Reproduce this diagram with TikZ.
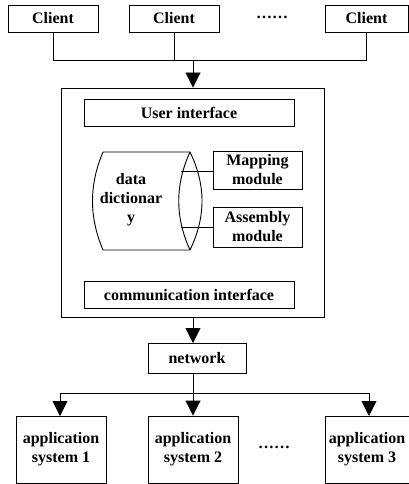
\documentclass[tikz,border=0pt]{standalone}
\usepackage{fontspec}
\setmainfont{Liberation Serif}
\usetikzlibrary{positioning, arrows.meta}

\begin{document}
\begin{tikzpicture}[
            x=1pt, y=-1pt,
            line width=0.9pt,
            every node/.style={font=\fontsize{16}{19}\selectfont\bfseries, align=center, inner sep=0pt},
            box/.style={draw, minimum width=90pt, minimum height=27pt},
            arr/.style={-{Triangle[width=15pt,length=15pt]}}
        ]

        \useasboundingbox (0,0) rectangle (409,484);

        % clients
        \node[box] (c1) at (53,18.5) {Client};
        \node[box] (c2) at (174,18.5) {Client};
        \node[box, minimum width=83pt] (c3) at (366.5,18.5) {Client};
        \node (cdots) at (272,17) {\dots\dots};

        % server
        \node[draw, minimum width=263pt, minimum height=229pt] (srv) at (192.5,202.5) {};
        \node[box, minimum width=210pt] (ui) at (189,112.5) {User interface};
        \node[box, minimum width=210pt] (ci) at (189,294.5) {communication interface};
        \node[box, minimum width=89pt, minimum height=38pt] (map) at (257.5,170) {Mapping\\module};
        \node[box, minimum width=89pt, minimum height=40pt] (asm) at (257.5,227) {Assembly\\module};

        % data dictionary
        \draw (103,152) .. controls (89,185) and (89,217) .. (103,250)
              -- (190,250) .. controls (206,217) and (206,185) .. (190,152) -- cycle;
        \draw (190,152) .. controls (175,185) and (175,217) .. (190,250);
        \node (dd) at (131,200) {data\\dictionar\\y};
        \coordinate (dd-a) at (181,171);
        \coordinate (dd-b) at (181,227);
        \draw (dd-a) -- (dd-a -| map.west);
        \draw (dd-b) -- (dd-b -| asm.west);

        % network
        \node[box, minimum width=98pt, minimum height=30pt] (net) at (197,358) {network};

        % application systems
        \node[box, minimum height=67pt] (a1) at (61,449.5) {application\\system 1};
        \node[box, minimum height=67pt] (a2) at (193,449.5) {application\\system 2};
        \node[box, minimum width=84pt, minimum height=67pt] (a3) at (367,449.5) {application\\system 3};
        \node (adots) at (274,447) {\dots\dots};

        % connectors
        \coordinate (top) at (193,60);
        \draw (c1.south) |- (top);
        \draw (c3.south) |- (top);
        \draw (c2.south) -- (c2.south |- top);
        \draw[arr] (top) -- (top |- srv.north);
        \draw[arr] (193,317) -- (193,343);
        \coordinate (bot) at (193,393);
        \draw (bot |- net.south) -- (bot);
        \draw[arr] (bot) -| (60,416);
        \draw[arr] (bot) -- (bot |- a2.north);
        \draw[arr] (bot) -| (369,416);

    \end{tikzpicture}
\end{document}
